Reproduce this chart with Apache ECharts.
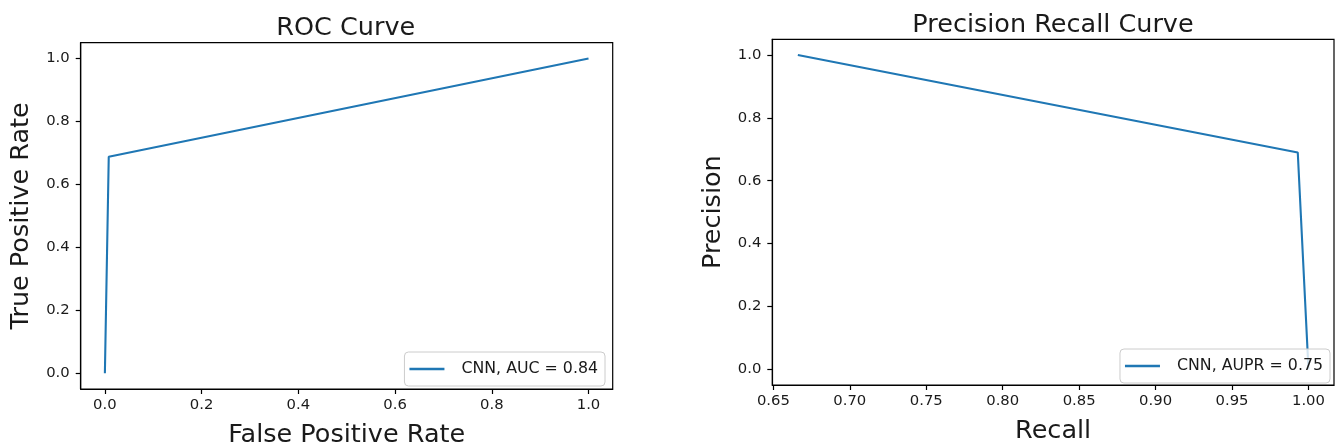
<!DOCTYPE html>
<html>
<head>
<meta charset="utf-8">
<script src="https://cdn.jsdelivr.net/npm/echarts@6/dist/echarts.min.js"></script>
<style>
  html, body { margin: 0; padding: 0; background: #fff; }
  #chart { width: 1341px; height: 448px; }
</style>
</head>
<body>
<div id="chart"></div>
<script>
// ROC curve points
const rocFpr = [0.0, 0.008, 1.0];
const rocTpr = [0.0, 0.688, 1.0];
// Precision-recall curve points
const prRecall = [0.666, 0.993, 1.0];
const prPrecision = [1.0, 0.69, 0.0];
// Tick labels
const rocTicks = [0.0, 0.2, 0.4, 0.6, 0.8, 1.0];
const prRecallTicks = [0.65, 0.70, 0.75, 0.80, 0.85, 0.90, 0.95, 1.00];
const unitTicks = [0.0, 0.2, 0.4, 0.6, 0.8, 1.0];
// Legend entries
const rocName = 'CNN, AUC = 0.84';
const prName = 'CNN, AUPR = 0.75';

const FONT = 'DejaVu Sans';
const LINE = '#1f77b4';
const TXT = '#1a1a1a';

function valueAxis(gridIndex, min, max, ticks, digits, name, nameGap, isY) {
  return {
    type: 'value',
    gridIndex: gridIndex,
    min: min,
    max: max,
    name: name,
    nameLocation: 'middle',
    nameGap: nameGap,
    nameTextStyle: { fontFamily: FONT, fontSize: 25.5, color: TXT },
    axisLine: { show: true, onZero: false, lineStyle: { color: '#000', width: 1.2 } },
    axisTick: { show: true, length: 5, lineStyle: { color: '#000', width: 1.2 }, customValues: ticks },
    axisLabel: {
      show: true,
      margin: isY ? 11 : 9,
      fontFamily: FONT, fontSize: 14.8, color: TXT,
      customValues: ticks,
      formatter: function (v) { return Number(v).toFixed(digits); }
    },
    splitLine: { show: false }
  };
}

function legendBox(name, right, bottom) {
  return {
    data: [name], right: right, bottom: bottom,
    icon: 'rect', itemWidth: 35, itemHeight: 2.5, itemGap: 10,
    backgroundColor: 'rgba(255,255,255,0.8)', borderColor: '#cccccc', borderWidth: 1, borderRadius: 4,
    padding: [9, 7, 9, 5],
    textStyle: { fontFamily: FONT, fontSize: 15.8, color: TXT, padding: [0, 0, 0, 12] }
  };
}

const chart = echarts.init(document.getElementById('chart'), null, { renderer: 'canvas' });

chart.setOption({
  animation: false,
  backgroundColor: '#fff',
  title: [
    { text: 'ROC Curve', left: 340.7, top: 10, textAlign: 'center',
      textStyle: { fontFamily: FONT, fontSize: 25.5, fontWeight: 'normal', color: TXT } },
    { text: 'Precision Recall Curve', left: 1048, top: 7, textAlign: 'center',
      textStyle: { fontFamily: FONT, fontSize: 25.5, fontWeight: 'normal', color: TXT } }
  ],
  grid: [
    { left: 80.7, top: 42.7, width: 532, height: 346.3, outerBoundsMode: 'none', containLabel: false,
      show: true, borderColor: '#000', borderWidth: 1.2, backgroundColor: 'transparent' },
    { left: 772.3, top: 39.3, width: 561.7, height: 345.7, outerBoundsMode: 'none', containLabel: false,
      show: true, borderColor: '#000', borderWidth: 1.2, backgroundColor: 'transparent' }
  ],
  xAxis: [
    valueAxis(0, -0.05, 1.05, rocTicks, 1, 'False Positive Rate', 33, false),
    valueAxis(1, 0.6493, 1.0167, prRecallTicks, 2, 'Recall', 33, false)
  ],
  yAxis: [
    valueAxis(0, -0.05, 1.05, unitTicks, 1, 'True Positive Rate', 46, true),
    valueAxis(1, -0.05, 1.05, unitTicks, 1, 'Precision', 46, true)
  ],
  legend: [
    legendBox(rocName, 736, 62),
    legendBox(prName, 11, 65)
  ],
  series: [
    {
      name: rocName, type: 'line', xAxisIndex: 0, yAxisIndex: 0,
      data: rocFpr.map(function (x, i) { return [x, rocTpr[i]]; }),
      showSymbol: false, symbol: 'none',
      lineStyle: { color: LINE, width: 2.1 }, itemStyle: { color: LINE }
    },
    {
      name: prName, type: 'line', xAxisIndex: 1, yAxisIndex: 1,
      data: prRecall.map(function (x, i) { return [x, prPrecision[i]]; }),
      showSymbol: false, symbol: 'none',
      lineStyle: { color: LINE, width: 2.1 }, itemStyle: { color: LINE }
    }
  ]
});
</script>
</body>
</html>
